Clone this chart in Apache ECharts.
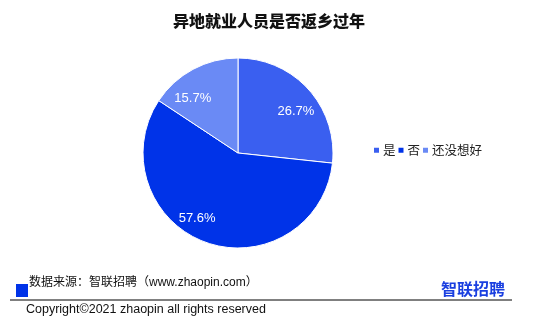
<!DOCTYPE html>
<html><head><meta charset="utf-8">
<script src="https://cdn.jsdelivr.net/npm/echarts@6/dist/echarts.min.js"></script>
<style>html,body{margin:0;padding:0;background:#fff}#c{width:538px;height:324px}</style>
</head><body><div id="c"></div>
<script>
var categories = ['是', '否', '还没想好'];
var values = [26.7, 57.6, 15.7];
var colors = ['#3a5ff0', '#0033e8', '#6a8af5'];
var titleText = '异地就业人员是否返乡过年';
var sourceText = '数据来源：智联招聘（www.zhaopin.com）';
var copyrightText = 'Copyright©2021 zhaopin all rights reserved';
var FONT = '"Noto Sans CJK SC", "Noto Sans", sans-serif';
var LFONT = '"Liberation Sans", "Noto Sans CJK SC", sans-serif';

var data = categories.map(function (c, i) {
  return { name: c, value: values[i], itemStyle: { color: colors[i] } };
});
var labelShift = [[1, 10], [-15, -7], [-9, 13]];

var chart = echarts.init(document.getElementById('c'), null, { renderer: 'canvas' });
chart.setOption({
  animation: false,
  textStyle: { fontFamily: FONT },
  title: {
    text: titleText, left: 'center', top: 8,
    textStyle: { fontFamily: FONT, fontSize: 16, fontWeight: 900, color: '#111' }
  },
  legend: {
    data: categories, left: 367, top: 139, orient: 'horizontal',
    icon: 'rect', itemWidth: 7, itemHeight: 7, itemGap: 1,
    textStyle: { fontFamily: FONT, fontSize: 12.5, color: '#222', padding: [0, 0, 0, -2] }
  },
  series: [{
    type: 'pie', center: [238, 153], radius: 95, startAngle: 90, clockwise: true,
    label: { show: false }, labelLine: { show: false },
    itemStyle: { borderColor: '#fff', borderWidth: 1 },
    data: data
  }, {
    type: 'pie', center: [238, 153], radius: [52, 95], startAngle: 90, clockwise: true,
    silent: true, legendHoverLink: false,
    itemStyle: { color: 'rgba(0,0,0,0)' },
    label: {
      show: true, position: 'inside', color: '#fff', fontSize: 13, fontFamily: LFONT,
      overflow: 'none',
      formatter: function (p) { return p.value.toFixed(1) + '%'; }
    },
    labelLayout: function (p) {
      var s = labelShift[p.dataIndex];
      return { dx: s[0], dy: s[1] };
    },
    labelLine: { show: false },
    data: categories.map(function (c, i) { return { name: c + ' ', value: values[i] }; })
  }],
  graphic: [
    { type: 'rect', shape: { x: 16, y: 284, width: 12, height: 13 }, style: { fill: '#0033e8' } },
    { type: 'text', x: 29, y: 283, style: { text: sourceText, font: '12px ' + LFONT, fill: '#111', textVerticalAlign: 'middle' } },
    { type: 'line', shape: { x1: 10, y1: 300, x2: 512, y2: 300 }, style: { stroke: '#000', lineWidth: 1 } },
    { type: 'text', x: 26, y: 310, style: { text: copyrightText, font: '12.5px ' + LFONT, fill: '#111', textVerticalAlign: 'middle' } },
    { type: 'text', x: 441, y: 289, style: { text: '智联招聘', font: 'bold 16px ' + FONT, fill: '#1a3fe0', textVerticalAlign: 'middle' } }
  ]
});
</script></body></html>
